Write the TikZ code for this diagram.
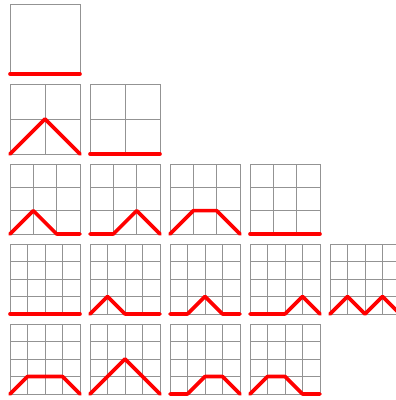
\documentclass[tikz,border=0pt]{standalone}
\usepackage{tikz}

\tikzset{
  gridline/.style={gray!85, line width=0.9pt},
  motzpath/.style={red, line width=3.6pt, line cap=round, line join=round}
}

% #1,#2 = lower left corner, #3 = length n, #4 = heights after each step
\newcommand{\motzkin}[4]{%
  \begin{scope}[shift={(#1,#2)}]
    \pgfmathsetmacro{\cell}{70/#3}
    \foreach \k in {0,...,#3} {
      \draw[gridline] (\k*\cell,0) -- (\k*\cell,70);
      \draw[gridline] (0,\k*\cell) -- (70,\k*\cell);
    }
    \draw[motzpath] (0,0) \foreach \h [count=\i] in {#4} { -- (\i*\cell,\h*\cell) };
  \end{scope}}

\begin{document}
\begin{tikzpicture}[x=1pt,y=1pt]
\useasboundingbox (0,0) rectangle (396,400);
\clip (0,0) rectangle (396,400);

% n = 1
\motzkin{10}{326}{1}{0}

% n = 2
\motzkin{10}{246}{2}{1,0}
\motzkin{90}{246}{2}{0,0}

% n = 3
\motzkin{10}{166}{3}{1,0,0}
\motzkin{90}{166}{3}{0,1,0}
\motzkin{170}{166}{3}{1,1,0}
\motzkin{250}{166}{3}{0,0,0}

% n = 4
\motzkin{10}{86}{4}{0,0,0,0}
\motzkin{90}{86}{4}{1,0,0,0}
\motzkin{170}{86}{4}{0,1,0,0}
\motzkin{250}{86}{4}{0,0,1,0}
\motzkin{330}{86}{4}{1,0,1,0}

\motzkin{10}{6}{4}{1,1,1,0}
\motzkin{90}{6}{4}{1,2,1,0}
\motzkin{170}{6}{4}{0,1,1,0}
\motzkin{250}{6}{4}{1,1,0,0}
\end{tikzpicture}
\end{document}
